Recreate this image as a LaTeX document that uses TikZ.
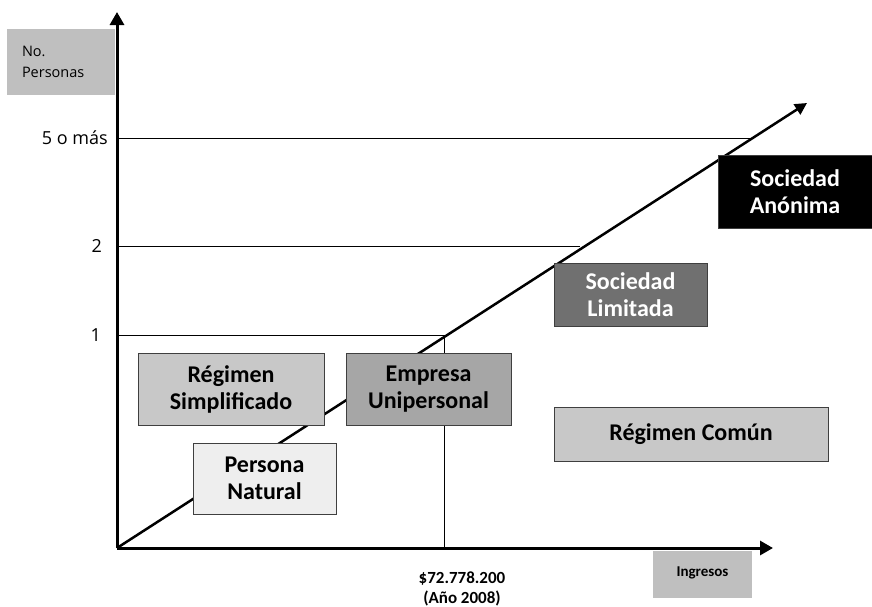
\documentclass[tikz,border=0pt]{standalone}
\usepackage{fontspec}
\setmainfont{Carlito}
\newfontfamily\osans{Open Sans}
\usetikzlibrary{arrows.meta}
\definecolor{darkline}{HTML}{3F3F3F}
\definecolor{lightgray}{HTML}{C8C8C8}
\definecolor{midgray}{HTML}{A6A6A6}
\definecolor{palegray}{HTML}{EEEEEE}
\definecolor{darkgray}{HTML}{707070}
\definecolor{labelgray}{HTML}{BFBFBF}
\tikzstyle{box} = [rectangle, draw=darkline, line width=1pt, inner sep=0pt, align=center, font=\fontsize{24}{27}\selectfont\bfseries]
\tikzstyle{axis} = [line width=3pt, -{Triangle[length=13pt,width=14pt]}]
\tikzstyle{trend} = [line width=2.5pt, -{Triangle[length=12pt,width=12pt]}]
\tikzstyle{level} = [line width=0.9pt]
\tikzstyle{tick} = [anchor=east, inner sep=0pt, font=\osans\fontsize{18}{20}\selectfont]

\begin{document}
\begin{tikzpicture}[x=1pt, y=-1pt]
\useasboundingbox (0,0) rectangle (872,606);

\coordinate (O) at (117,548);
\coordinate (ytip) at (117,12);
\coordinate (xtip) at (773,548);
\coordinate (dtip) at (807,103);

% niveles
\node (t5) [tick] at (108,138) {5 o más};
\node (t2) [tick] at (102,246) {2};
\node (t1) [tick] at (101,335) {1};
\coordinate (h5) at (750,138);
\coordinate (h2) at (580,246);
\coordinate (h1) at (444,335);
\coordinate (v1) at (444,548);

\draw [level] (117,138) -- (h5);
\draw [level] (117,246) -- (h2);
\draw [level] (117,335) -- (h1);
\draw [level] (h1) -- (v1);

\draw [trend] (O) -- (dtip);
\draw [axis] (O) -- (ytip);
\draw [axis] (O) -- (xtip);

\node (npers) [fill=labelgray, minimum width=108pt, minimum height=66pt, inner xsep=15pt, text width=78pt, align=left, font=\osans\fontsize{14.5}{21}\selectfont] at (61,62) {No.\\Personas};
\node (ingr) [fill=labelgray, minimum width=99pt, minimum height=47pt, inner sep=0pt, font=\fontsize{15}{18}\selectfont\bfseries] at (702.5,574.5) {\raisebox{6pt}{Ingresos}};
\node (monto) [align=center, font=\fontsize{17}{19.5}\selectfont\bfseries] at (462,589) {\$72.778.200\\(Año 2008)};

\node (regsim) [box, fill=lightgray, minimum width=186pt, minimum height=72pt] at (231,389) {Régimen\\Simplificado};
\node (empuni) [box, fill=midgray, minimum width=165pt, minimum height=72pt] at (428.5,389) {Empresa\\Unipersonal};
\node (pernat) [box, fill=palegray, minimum width=143pt, minimum height=71pt] at (264.5,478.5) {Persona\\Natural};
\node (soclim) [box, fill=darkgray, text=white, minimum width=153pt, minimum height=63pt] at (630.5,294.5) {Sociedad\\Limitada};
\node (socano) [box, fill=black, text=white, minimum width=154pt, minimum height=73pt] at (795,191.5) {Sociedad\\Anónima};
\node (regcom) [box, fill=lightgray, minimum width=274pt, minimum height=54pt] at (691,434) {Régimen Común};

\end{tikzpicture}
\end{document}
